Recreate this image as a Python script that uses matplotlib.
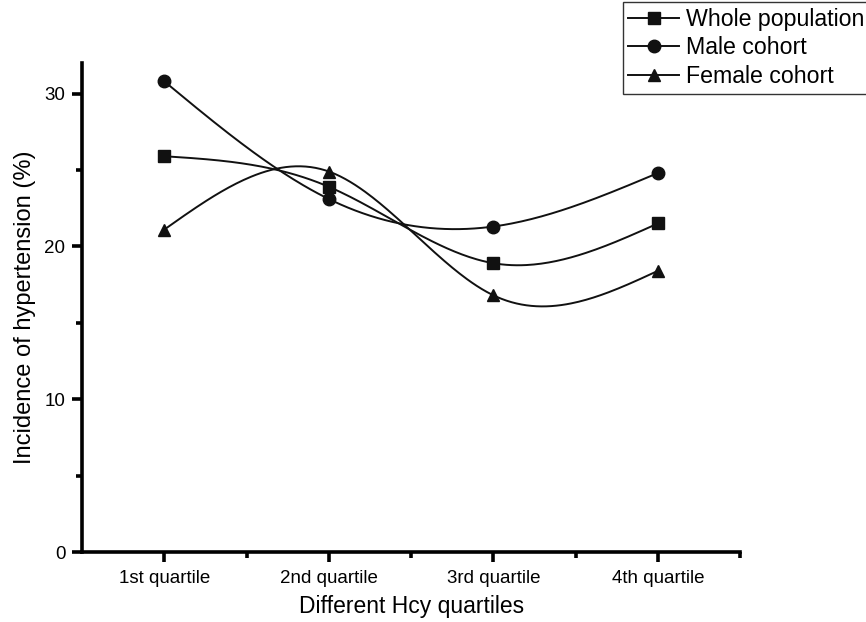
import numpy as np
import matplotlib
matplotlib.use("Agg")
import matplotlib.pyplot as plt

plt.rcParams['font.family'] = ['Liberation Sans', 'DejaVu Sans']

quartiles = ["1st quartile", "2nd quartile", "3rd quartile", "4th quartile"]
whole = [25.9, 23.9, 18.9, 21.5]
male = [30.8, 23.1, 21.3, 24.8]
female = [21.1, 24.9, 16.8, 18.4]


def spline(x, y, n=200):
    # natural cubic spline, just for drawing the smooth connecting line
    x = np.asarray(x, float)
    y = np.asarray(y, float)
    k = len(x)
    h = np.diff(x)
    A = np.zeros((k, k))
    b = np.zeros(k)
    A[0, 0] = A[-1, -1] = 1
    for i in range(1, k - 1):
        A[i, i - 1] = h[i - 1]
        A[i, i] = 2 * (h[i - 1] + h[i])
        A[i, i + 1] = h[i]
        b[i] = 6 * ((y[i + 1] - y[i]) / h[i] - (y[i] - y[i - 1]) / h[i - 1])
    M = np.linalg.solve(A, b)
    xs = np.linspace(x[0], x[-1], n)
    idx = np.clip(np.searchsorted(x, xs) - 1, 0, k - 2)
    x0, x1 = x[idx], x[idx + 1]
    hh = x1 - x0
    t0, t1 = x1 - xs, xs - x0
    ys = (M[idx] * t0**3 + M[idx + 1] * t1**3) / (6 * hh) \
        + (y[idx] / hh - M[idx] * hh / 6) * t0 + (y[idx + 1] / hh - M[idx + 1] * hh / 6) * t1
    return xs, ys


fig = plt.figure(figsize=(8.66, 6.22), dpi=100)
ax = fig.add_axes([0.0947, 0.1125, 0.76, 0.7862])

xpos = np.arange(1, 5)
handles = []
for vals, mk, lab in [(whole, 's', "Whole population"),
                      (male, 'o', "Male cohort"),
                      (female, '^', "Female cohort")]:
    xs, ys = spline(xpos, vals)
    ax.plot(xs, ys, color='#111111', lw=1.4)
    ax.plot(xpos, vals, ls='none', marker=mk, ms=9, color='#111111')
    h, = ax.plot([], [], color='#111111', lw=1.4, marker=mk, ms=9)
    handles.append((h, lab))

ax.set_xlim(0.5, 4.5)
ax.set_ylim(0, 32)
ax.set_xticks(xpos)
ax.set_xticklabels(quartiles)
ax.set_xticks([1.5, 2.5, 3.5, 4.5], minor=True)
ax.set_yticks([0, 10, 20, 30])
ax.set_yticks([5, 15, 25], minor=True)

for s in ['top', 'right']:
    ax.spines[s].set_visible(False)
for s in ['left', 'bottom']:
    ax.spines[s].set_linewidth(2.6)
ax.tick_params(which='major', length=7, width=2.6, pad=5)
ax.tick_params(axis='y', labelsize=13.5)
ax.tick_params(axis='x', labelsize=13.5, pad=6)
ax.tick_params(which='minor', length=4, width=2.6)

ax.set_xlabel("Different Hcy quartiles", fontsize=16.5, labelpad=6)
ax.set_ylabel("Incidence of hypertension (%)", fontsize=17, labelpad=6)

leg = fig.legend([h for h, _ in handles], [l for _, l in handles],
                 loc='upper left', bbox_to_anchor=(0.719, 0.997),
                 fontsize=16.7, frameon=True, fancybox=False, handlelength=2.2,
                 handletextpad=0.3, borderpad=0.25, labelspacing=0.25,
                 borderaxespad=0)
leg.get_frame().set_edgecolor('black')
leg.get_frame().set_linewidth(1.0)

plt.savefig('out.png', dpi=100)
